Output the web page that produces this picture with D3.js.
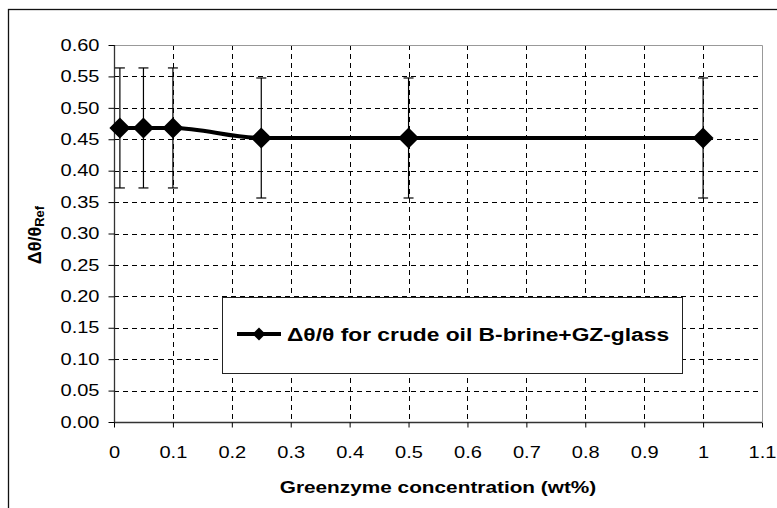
<!DOCTYPE html>
<html><head><meta charset="utf-8">
<script src="https://cdn.jsdelivr.net/npm/d3@7"></script>
<style>body{margin:0;background:#fff}svg{display:block}</style>
</head><body>
<script>
const concentrations = [0.01, 0.05, 0.1, 0.25, 0.5, 1];
const ratioValues = [0.468, 0.468, 0.468, 0.452, 0.452, 0.452];
const errorValues = [0.0955, 0.0955, 0.0955, 0.0955, 0.0955, 0.0955];
const xTicks = [0,0.1,0.2,0.3,0.4,0.5,0.6,0.7,0.8,0.9,1,1.1];
const yTicks = [0,0.05,0.1,0.15,0.2,0.25,0.3,0.35,0.4,0.45,0.5,0.55,0.6];
const seriesName = "Δθ/θ for crude oil B-brine+GZ-glass";

const W = 777, H = 508;
const m = {left:114, top:45, right:762, bottom:422};
const S = 1.23; // horizontal text stretch seen in the reference
const svg = d3.select("body").append("svg").attr("width",W).attr("height",H);
svg.append("rect").attr("width",W).attr("height",H).attr("fill","#fff");
svg.append("rect").attr("x",8.5).attr("y",9.5).attr("width",W).attr("height",H)
  .attr("fill","none").attr("stroke","#111").attr("stroke-width",1.3);

const x = d3.scaleLinear().domain([0,1.1]).range([m.left,m.right]);
const y = d3.scaleLinear().domain([0,0.6]).range([m.bottom,m.top]);
const font = "Arial, 'Liberation Sans', sans-serif";

// grid
const g = svg.append("g");
g.selectAll(".hg").data(yTicks.filter(v=>v>0 && v<0.6)).join("line")
  .attr("x1",m.left).attr("x2",m.right).attr("y1",d=>Math.round(y(d))+0.5).attr("y2",d=>Math.round(y(d))+0.5)
  .attr("stroke","#000").attr("stroke-width",1).attr("stroke-dasharray","5,4");
g.selectAll(".vg").data(xTicks.filter(v=>v>0 && v<1.1)).join("line")
  .attr("y1",m.top).attr("y2",m.bottom).attr("x1",d=>Math.round(x(d))+0.5).attr("x2",d=>Math.round(x(d))+0.5)
  .attr("stroke","#000").attr("stroke-width",1).attr("stroke-dasharray","5,4");
// plot border top/right
svg.append("path").attr("d",`M${m.left},${m.top+0.5}H${m.right+0.5}V${m.bottom}`)
  .attr("fill","none").attr("stroke","#999").attr("stroke-width",1);

// axes
const yAxis = d3.axisLeft(y).tickValues(yTicks).tickFormat(d3.format(".2f")).tickSize(6).tickPadding(9);
const ya = svg.append("g").attr("transform",`translate(${m.left+0.5},0)`).call(yAxis);
const xAxis = d3.axisBottom(x).tickValues(xTicks).tickFormat(d=>d3.format("~g")(d)).tickSize(5).tickPadding(19);
const xa = svg.append("g").attr("transform",`translate(0,${m.bottom+0.5})`).call(xAxis);
[ya,xa].forEach(a=>{
  a.select(".domain").attr("stroke","#333").attr("stroke-width",1.3);
  a.selectAll(".tick line").attr("stroke","#000");
  a.selectAll("text").attr("font-family",font).attr("font-size",16.3).attr("fill","#000")
    .each(function(){ const t=d3.select(this); t.attr("x",(+t.attr("x")||0)/S).attr("transform",`scale(${S},1)`); });
});
ya.select(".domain").attr("d",`M0,${m.top}V${m.bottom}`);
xa.select(".domain").attr("d",`M${m.left},0H${m.right}`);

// error bars
const eb = svg.append("g").attr("stroke","#000").attr("stroke-width",1.2);
concentrations.forEach((c,i)=>{
  const cx = x(c), y1 = y(ratioValues[i]+errorValues[i]), y2 = y(ratioValues[i]-errorValues[i]);
  eb.append("line").attr("x1",cx).attr("x2",cx).attr("y1",y1).attr("y2",y2);
  eb.append("line").attr("x1",cx-5).attr("x2",cx+5).attr("y1",y1).attr("y2",y1);
  eb.append("line").attr("x1",cx-5).attr("x2",cx+5).attr("y1",y2).attr("y2",y2);
});

// line
const pts = concentrations.map((c,i)=>[c,ratioValues[i]]);
svg.append("path").datum(pts)
  .attr("d",d3.line().x(d=>x(d[0])).y(d=>y(d[1])).curve(d3.curveMonotoneX))
  .attr("fill","none").attr("stroke","#000").attr("stroke-width",4);
const diamond = r => `M0,${-r}L${r},0L0,${r}L${-r},0Z`;
svg.selectAll(".mk").data(pts).join("path")
  .attr("transform",d=>`translate(${x(d[0])},${y(d[1])})`)
  .attr("d",diamond(10.5)).attr("fill","#000");

// legend
const lg = svg.append("g");
lg.append("rect").attr("x",222.5).attr("y",297.5).attr("width",460).attr("height",76)
  .attr("fill","#fff").attr("stroke","#222").attr("stroke-width",1);
lg.append("line").attr("x1",237).attr("x2",281).attr("y1",334).attr("y2",334).attr("stroke","#000").attr("stroke-width",4);
lg.append("path").attr("transform","translate(259,334)").attr("d",diamond(6.5)).attr("fill","#000");
lg.append("text").attr("x",287/1.2).attr("y",341).attr("transform","scale(1.2,1)")
  .attr("font-family",font).attr("font-weight","bold")
  .attr("font-size",19).attr("fill","#000").text(seriesName);

// axis titles
svg.append("text").attr("x",438/1.3).attr("y",493).attr("transform","scale(1.3,1)").attr("text-anchor","middle")
  .attr("font-family",font).attr("font-weight","bold").attr("font-size",16).text("Greenzyme concentration (wt%)");
const yt = svg.append("text").attr("transform","translate(41,235) rotate(-90)").attr("text-anchor","middle")
  .attr("font-family",font).attr("font-weight","bold").attr("font-size",18);
yt.append("tspan").text("Δθ/θ");
yt.append("tspan").attr("font-size",13).attr("dy",3).text("Ref");
</script>
</body></html>
